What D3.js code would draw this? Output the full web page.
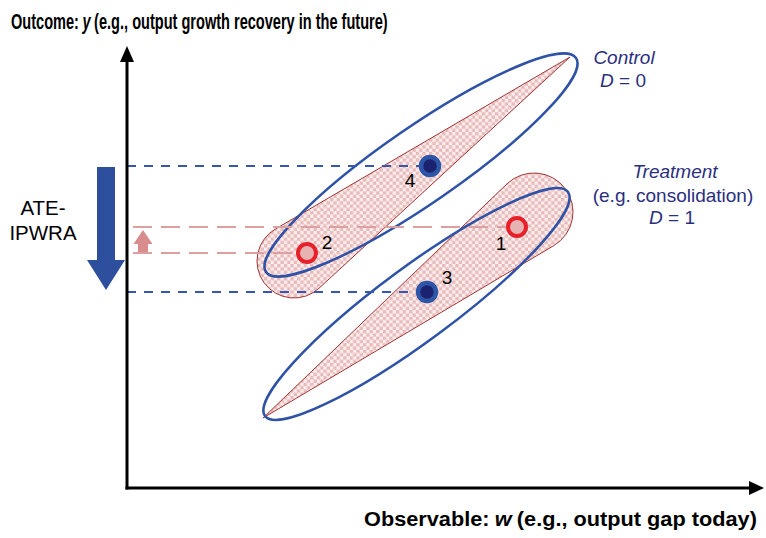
<!DOCTYPE html>
<html><head><meta charset="utf-8">
<script src="https://cdn.jsdelivr.net/npm/d3@7"></script>
<style>body{margin:0;background:#fff}svg{display:block}</style>
</head><body>
<svg id="c" width="766" height="538"></svg>
<script>
// ---- data (chart units: w to the right, y upward, origin at the axes corner) ----
const pointNames = ["1", "2", "3", "4"];
const pointKind  = ["treated", "treated", "control", "control"];
const pointW     = [390, 180, 300, 303];
const pointY     = [261, 235, 196, 322];

const ellipseNames = ["Control", "Treatment"];
const ellipseEndA  = [[139, 216], [138, 72]];
const ellipseEndB  = [[449, 430], [441, 296]];
const ellipseHalfWidth = [38, 37];

const dropNames  = ["Control support", "Treatment support"];
const dropTip    = [[443, 431], [136, 70]];
const dropCenter = [[167, 227], [407, 276]];
const dropRadius = [37, 39];

const wMax = 633, yMax = 442;

// ---- scales ----
const xS = d3.scaleLinear().domain([0, wMax]).range([127, 760]);
const yS = d3.scaleLinear().domain([0, yMax]).range([488, 46]);

const svg = d3.select("#c");
const defs = svg.append("defs");
const pat = defs.append("pattern").attr("id", "chk").attr("patternUnits", "userSpaceOnUse")
  .attr("width", 6.6).attr("height", 6.6);
pat.append("rect").attr("width", 6.6).attr("height", 6.6).attr("fill", "#fbeeee");
pat.append("rect").attr("width", 3.3).attr("height", 3.3).attr("fill", "#e8baba");
pat.append("rect").attr("x", 3.3).attr("y", 3.3).attr("width", 3.3).attr("height", 3.3).attr("fill", "#e8baba");

// ---- teardrops ----
function dropPath(tip, c, r) {
  const T = [xS(tip[0]), yS(tip[1])], C = [xS(c[0]), yS(c[1])];
  const dx = T[0] - C[0], dy = T[1] - C[1], d = Math.hypot(dx, dy);
  const phi = Math.atan2(dy, dx), al = Math.acos(r / d);
  const P1 = [C[0] + r * Math.cos(phi + al), C[1] + r * Math.sin(phi + al)];
  const P2 = [C[0] + r * Math.cos(phi - al), C[1] + r * Math.sin(phi - al)];
  return `M${T}L${P1}A${r},${r} 0 1 1 ${P2}Z`;
}
svg.append("g").selectAll("path").data(dropNames).join("path")
  .attr("d", (n, i) => dropPath(dropTip[i], dropCenter[i], dropRadius[i]))
  .attr("fill", "url(#chk)").attr("stroke", "#a03434").attr("stroke-width", 1);

// ---- ellipses ----
svg.append("g").selectAll("ellipse").data(ellipseNames).join("ellipse")
  .each(function (n, i) {
    const A = [xS(ellipseEndA[i][0]), yS(ellipseEndA[i][1])];
    const B = [xS(ellipseEndB[i][0]), yS(ellipseEndB[i][1])];
    const cx = (A[0] + B[0]) / 2, cy = (A[1] + B[1]) / 2;
    const a = Math.hypot(B[0] - A[0], B[1] - A[1]) / 2;
    const ang = Math.atan2(B[1] - A[1], B[0] - A[0]) * 180 / Math.PI;
    d3.select(this).attr("cx", cx).attr("cy", cy).attr("rx", a).attr("ry", ellipseHalfWidth[i])
      .attr("transform", `rotate(${ang},${cx},${cy})`);
  })
  .attr("fill", "none").attr("stroke", "#2e52a6").attr("stroke-width", 2.5);

// ---- projection lines ----
const ptR = 11;
const proj = svg.append("g");
pointNames.forEach((n, i) => {
  const ctrl = pointKind[i] === "control";
  proj.append("line")
    .attr("x1", ctrl ? xS(0) : xS(0) + 6).attr("x2", xS(pointW[i]) - ptR)
    .attr("y1", yS(pointY[i])).attr("y2", yS(pointY[i]))
    .attr("stroke", ctrl ? "#3657ad" : "#dca0a0").attr("stroke-width", 2)
    .attr("stroke-dasharray", ctrl ? "9,8" : "19,9");
});

// ---- axes ----
const axG = svg.append("g");
axG.append("g").attr("transform", `translate(0,${yS(0)})`)
  .call(d3.axisBottom(xS).tickValues([]).tickSizeOuter(0))
  .call(g => g.select(".domain").attr("stroke", "#000").attr("stroke-width", 3).attr("d", `M${xS(0) - 1.5},0H${xS(wMax) - 8}`));
axG.append("g").attr("transform", `translate(${xS(0)},0)`)
  .call(d3.axisLeft(yS).tickValues([]).tickSizeOuter(0))
  .call(g => g.select(".domain").attr("stroke", "#000").attr("stroke-width", 3).attr("d", `M0,${yS(0) + 1.5}V${yS(yMax) + 10}`));
axG.append("path").attr("d", `M${xS(wMax) + 4},${yS(0)}l-15,-7v14z`).attr("fill", "#000");
axG.append("path").attr("d", `M${xS(0)},${yS(yMax)}l-7,16h14z`).attr("fill", "#000");

// ---- points ----
svg.append("g").selectAll("circle").data(pointNames).join("circle")
  .attr("cx", (n, i) => xS(pointW[i])).attr("cy", (n, i) => yS(pointY[i])).attr("r", 9)
  .attr("fill", (n, i) => pointKind[i] === "control" ? "#1b236e" : "#e6b2b2")
  .attr("stroke", (n, i) => pointKind[i] === "control" ? "#2e56a8" : "#e8202a")
  .attr("stroke-width", (n, i) => pointKind[i] === "control" ? 4.5 : 4);

const lblOff = { "1": [-16, 23], "2": [20, -4], "3": [20, -8], "4": [-20, 21] };
svg.append("g").selectAll("text").data(pointNames).join("text")
  .attr("x", (n, i) => xS(pointW[i]) + lblOff[n][0]).attr("y", (n, i) => yS(pointY[i]) + lblOff[n][1])
  .attr("text-anchor", "middle").attr("font-family", "Liberation Sans, Arial, sans-serif")
  .attr("font-size", 19).attr("fill", "#000").text(n => n);

// ---- ATE arrow (from control outcome of 4 to control outcome of 3) ----
{
  const x = 106, top = yS(pointY[3]) + 1, tip = yS(pointY[2]) - 2, hl = 30;
  svg.append("path").attr("fill", "#2d4f9e")
    .attr("d", `M${x - 9},${top}H${x + 9}V${tip - hl}H${x + 19}L${x},${tip}L${x - 19},${tip - hl}H${x - 9}Z`);
}
// ---- small pink arrow (from outcome of 2 to outcome of 1) ----
{
  const x = 143, bot = yS(pointY[1]) - 1, tip = yS(pointY[0]) + 3, hl = 14;
  svg.append("path").attr("fill", "#d98c8c")
    .attr("d", `M${x - 5},${bot}H${x + 5}V${tip + hl}H${x + 9.5}L${x},${tip}L${x - 9.5},${tip + hl}H${x - 5}Z`);
}

// ---- texts ----
const ff = "'Liberation Sans', Arial, Helvetica, sans-serif";
const ffN = "'Liberation Sans Narrow', 'Arial Narrow', 'Liberation Sans', Arial, sans-serif";

// axis title made of pieces laid side by side, then fitted to the reference width
function axisTitle(x, y, size, width, pieces) {
  const g = svg.append("g");
  const inner = g.append("g");
  let cx = 0;
  const space = size * 0.24;
  pieces.forEach((p, k) => {
    const t = inner.append("text").attr("x", cx).attr("y", 0).attr("font-family", ffN)
      .attr("font-weight", "bold").attr("font-size", size).attr("fill", "#000")
      .attr("font-style", p.italic ? "italic" : "normal").text(p.text);
    cx += t.node().getComputedTextLength() + (k < pieces.length - 1 ? space : 0);
  });
  const s = width / cx;
  g.attr("transform", `translate(${x},${y}) scale(${s},1)`);
}
axisTitle(11, 29, 22.5, 377, [{ text: "Outcome:" }, { text: "y", italic: true },
  { text: "(e.g., output growth recovery in the future)" }]);
axisTitle(364, 525.5, 20.5, 393, [{ text: "Observable:" }, { text: "w", italic: true },
  { text: "(e.g., output gap today)" }]);

const navy = "#2a2f7e";
function dLine(x, y, val) {
  const t = svg.append("text").attr("x", x).attr("y", y).attr("text-anchor", "middle")
    .attr("font-family", ff).attr("font-size", 19).attr("fill", navy);
  t.append("tspan").attr("font-style", "italic").text("D");
  t.append("tspan").text(" = " + val);
}
svg.append("text").attr("x", 624).attr("y", 64).attr("text-anchor", "middle").attr("font-family", ff)
  .attr("font-size", 19).attr("font-style", "italic").attr("fill", navy).text("Control");
dLine(623, 87, "0");
svg.append("text").attr("x", 675).attr("y", 178).attr("text-anchor", "middle").attr("font-family", ff)
  .attr("font-size", 19).attr("font-style", "italic").attr("fill", navy).text("Treatment");
svg.append("text").attr("x", 673).attr("y", 202).attr("text-anchor", "middle").attr("font-family", ff)
  .attr("font-size", 19).attr("fill", navy).text("(e.g. consolidation)");
dLine(672, 224, "1");

svg.append("text").attr("x", 43).attr("y", 215).attr("text-anchor", "middle").attr("font-family", ff)
  .attr("font-size", 20.5).attr("fill", "#000").text("ATE-");
svg.append("text").attr("x", 43).attr("y", 240).attr("text-anchor", "middle").attr("font-family", ff)
  .attr("font-size", 20.5).attr("fill", "#000").text("IPWRA");
</script>
</body></html>
